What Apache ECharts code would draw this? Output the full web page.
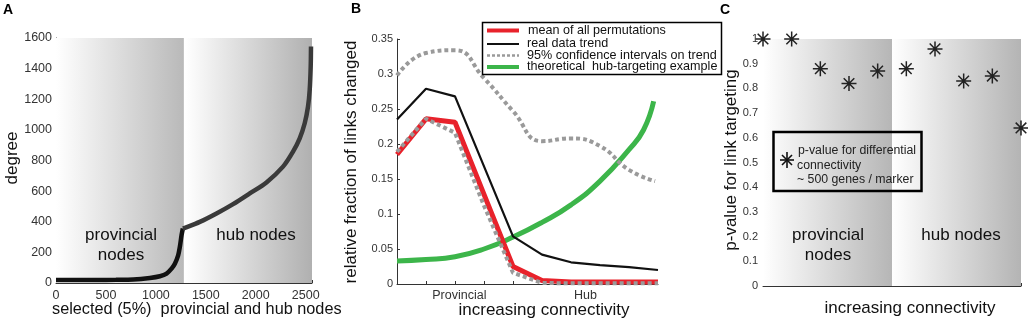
<!DOCTYPE html>
<html>
<head>
<meta charset="utf-8">
<script src="https://cdn.jsdelivr.net/npm/echarts@6/dist/echarts.min.js"></script>
<style>
  html, body { margin: 0; padding: 0; background: #fff; }
  #chart { width: 1028px; height: 320px; }
</style>
</head>
<body>
<div id="chart"></div>
<script>
// panel A: sorted node degree
var aProvX = [0, 200, 400, 600, 773, 940, 1040, 1107, 1157, 1190, 1223, 1240, 1257, 1270];
var aProvY = [20, 20, 20, 21, 23, 33, 44, 61, 94, 126, 181, 236, 312, 356];
var aHubX = [1270, 1290, 1440, 1607, 1773, 1940, 2107, 2273, 2373, 2440, 2490, 2523, 2540, 2550, 2553];
var aHubY = [356, 360, 399, 454, 515, 585, 657, 760, 858, 945, 1043, 1152, 1261, 1414, 1545];

// panel B: fraction of links changed
var bIdx = [0, 1, 2, 3, 4, 5, 6, 7, 8, 9];
var bMean = [0.185, 0.236, 0.231, 0.128, 0.025, 0.005, 0.003, 0.003, 0.003, 0.003];
var bTrend = [0.235, 0.279, 0.268, 0.168, 0.068, 0.042, 0.031, 0.027, 0.024, 0.020];
var bLow = [0.189, 0.236, 0.216, 0.112, 0.016, 0.0015, 0.001, 0.001, 0.001, 0.001];
var bHighX = [0, 1, 2, 3, 4, 5, 6, 7, 8, 8.9];
var bHigh = [0.298, 0.330, 0.334, 0.294, 0.247, 0.204, 0.208, 0.197, 0.163, 0.147];
var bHubX = [0, 1, 2, 3, 4, 5, 6, 7, 8, 8.5, 8.85];
var bHub = [0.033, 0.035, 0.039, 0.050, 0.067, 0.088, 0.113, 0.147, 0.192, 0.220, 0.261];
var bTickLabels = ['Provincial', 'Hub'];
var bTickPos = [2.15, 6.5];

// panel C: p-values per marker
var cIdx = [0, 1, 2, 3, 4, 5, 6, 7, 8, 9];
var cPval = [1.0, 1.0, 0.88, 0.82, 0.87, 0.88, 0.96, 0.83, 0.85, 0.64];

var font = "'Liberation Sans', Arial, sans-serif";
var star = 'path://M0,-10L0,10M-10,0L10,0M-7.07,-7.07L7.07,7.07M-7.07,7.07L7.07,-7.07';

function zip(xs, ys) {
    var out = [];
    for (var i = 0; i < xs.length; i++) out.push([xs[i], ys[i]]);
    return out;
}
function shade(to) {
    return new echarts.graphic.LinearGradient(0, 0, 1, 0, [
        {offset: 0, color: '#ffffff'}, {offset: 1, color: to}
    ]);
}
function plain(v) { return String(v); }
function axisBase(extra) {
    var base = {
        type: 'value',
        splitLine: {show: false},
        axisLine: {show: true, lineStyle: {color: '#333', width: 1}},
        axisTick: {show: true, inside: true, length: 3, lineStyle: {color: '#333'}},
        axisLabel: {color: '#333', fontFamily: font, fontSize: 12.5, formatter: plain}
    };
    for (var k in extra) base[k] = extra[k];
    return base;
}

var myChart = echarts.init(document.getElementById('chart'));

var option = {
    animation: false,
    textStyle: {fontFamily: font},
    grid: [
        {left: 56, top: 38, width: 256, height: 245},
        {left: 397, top: 39, width: 261, height: 245},
        {left: 763, top: 39, width: 258, height: 247}
    ],
    xAxis: [
        axisBase({gridIndex: 0, min: 0, max: 2563, interval: 500,
            axisLabel: {color: '#333', fontFamily: font, fontSize: 12.5, margin: 6,
                formatter: function (v) { return v % 500 === 0 ? String(v) : ''; }}}),
        axisBase({gridIndex: 1, min: 0, max: 9, interval: 1,
            axisTick: {show: true, inside: true, length: 3, lineStyle: {color: '#333'}, customValues: [1, 2, 3, 4]},
            axisLabel: {color: '#333', fontFamily: font, fontSize: 12.5, margin: 5, customValues: bTickPos,
                formatter: function (v) {
                    var i = bTickPos.indexOf(v);
                    return i >= 0 ? bTickLabels[i] : '';
                }}}),
        axisBase({gridIndex: 2, min: 0, max: 9, interval: 1, axisLabel: {show: false}})
    ],
    yAxis: [
        axisBase({gridIndex: 0, min: 0, max: 1600, interval: 200,
            axisLabel: {color: '#333', fontFamily: font, fontSize: 12.5, margin: 4, formatter: plain}}),
        axisBase({gridIndex: 1, min: 0, max: 0.35, interval: 0.05,
            axisLabel: {color: '#333', fontFamily: font, fontSize: 11, margin: 4}}),
        axisBase({gridIndex: 2, min: 0, max: 1, interval: 0.1,
            axisLabel: {color: '#333', fontFamily: font, fontSize: 11, margin: 5}})
    ],
    series: [
        {
            type: 'line', xAxisIndex: 0, yAxisIndex: 0, data: zip(aProvX, aProvY),
            showSymbol: false, smooth: 0.3, silent: true,
            lineStyle: {color: '#111', width: 4.5}, z: 3,
            markArea: {
                silent: true,
                data: [
                    [{xAxis: 0, yAxis: 0, itemStyle: {color: shade('#b9b9b9')}}, {xAxis: 1280, yAxis: 1600}],
                    [{xAxis: 1290, yAxis: 0, itemStyle: {color: shade('#b0b0b0')}}, {xAxis: 2563, yAxis: 1600}]
                ]
            }
        },
        {
            type: 'line', xAxisIndex: 0, yAxisIndex: 0, data: zip(aHubX, aHubY),
            showSymbol: false, smooth: 0.3, silent: true,
            lineStyle: {color: '#3a3a3a', width: 4.5}, z: 3
        },
        {
            type: 'line', xAxisIndex: 1, yAxisIndex: 1, data: zip(bHubX, bHub),
            showSymbol: false, smooth: true, silent: true,
            lineStyle: {color: '#3cb54a', width: 5}, z: 2
        },
        {
            type: 'line', xAxisIndex: 1, yAxisIndex: 1, data: zip(bIdx, bTrend),
            showSymbol: false, silent: true,
            lineStyle: {color: '#111', width: 2.2}, z: 3
        },
        {
            type: 'line', xAxisIndex: 1, yAxisIndex: 1, data: zip(bIdx, bMean),
            showSymbol: false, silent: true,
            lineStyle: {color: '#e8222b', width: 5}, z: 4
        },
        {
            type: 'line', xAxisIndex: 1, yAxisIndex: 1, data: zip(bIdx, bLow),
            showSymbol: false, silent: true,
            lineStyle: {color: '#9a9a9a', width: 4, type: [4, 3]}, z: 5
        },
        {
            type: 'line', xAxisIndex: 1, yAxisIndex: 1, data: zip(bHighX, bHigh),
            showSymbol: false, smooth: true, silent: true,
            lineStyle: {color: '#9a9a9a', width: 4, type: [4, 3]}, z: 5
        },
        {
            type: 'scatter', xAxisIndex: 2, yAxisIndex: 2, data: zip(cIdx, cPval),
            symbol: star, symbolSize: 15, silent: true, z: 4,
            itemStyle: {color: 'rgba(0,0,0,0)', borderColor: '#222', borderWidth: 1.5, opacity: 1},
            markArea: {
                silent: true,
                data: [
                    [{xAxis: 0, yAxis: 0, itemStyle: {color: shade('#b6b6b6')}}, {xAxis: 4.5, yAxis: 1}],
                    [{xAxis: 4.5, yAxis: 0, itemStyle: {color: shade('#b4b4b4')}}, {xAxis: 9, yAxis: 1}]
                ]
            }
        }
    ],
    graphic: [
        // panel letters
        {type: 'text', left: 3, top: 3, style: {text: 'A', font: 'bold 14px ' + font, fill: '#000'}},
        {type: 'text', left: 351, top: 2, style: {text: 'B', font: 'bold 14px ' + font, fill: '#000'}},
        {type: 'text', left: 720, top: 3, style: {text: 'C', font: 'bold 14px ' + font, fill: '#000'}},
        // axis titles
        {type: 'text', x: 12, y: 158, rotation: Math.PI / 2,
            style: {text: 'degree', font: '17px ' + font, fill: '#111', align: 'center', verticalAlign: 'middle'}},
        {type: 'text', x: 52, y: 310,
            style: {text: 'selected (5%)  provincial and hub nodes', font: '16.3px ' + font, fill: '#111', align: 'left', verticalAlign: 'middle'}},
        {type: 'text', x: 351, y: 162, rotation: Math.PI / 2,
            style: {text: 'relative fraction of links changed', font: '17px ' + font, fill: '#111', align: 'center', verticalAlign: 'middle'}},
        {type: 'text', x: 544, y: 310,
            style: {text: 'increasing connectivity', font: '17px ' + font, fill: '#111', align: 'center', verticalAlign: 'middle'}},
        {type: 'text', x: 731, y: 160, rotation: Math.PI / 2,
            style: {text: 'p-value for link targeting', font: '17px ' + font, fill: '#111', align: 'center', verticalAlign: 'middle'}},
        {type: 'text', x: 910, y: 308,
            style: {text: 'increasing connectivity', font: '17px ' + font, fill: '#111', align: 'center', verticalAlign: 'middle'}},
        // region labels
        {type: 'text', x: 121, y: 245, z: 10,
            style: {text: 'provincial\nnodes', font: '17px ' + font, lineHeight: 20, fill: '#111', align: 'center', verticalAlign: 'middle'}},
        {type: 'text', x: 256, y: 235, z: 10,
            style: {text: 'hub nodes', font: '17px ' + font, fill: '#111', align: 'center', verticalAlign: 'middle'}},
        {type: 'text', x: 828, y: 245, z: 10,
            style: {text: 'provincial\nnodes', font: '17px ' + font, lineHeight: 20, fill: '#111', align: 'center', verticalAlign: 'middle'}},
        {type: 'text', x: 961, y: 235, z: 10,
            style: {text: 'hub nodes', font: '17px ' + font, fill: '#111', align: 'center', verticalAlign: 'middle'}},
        // legend B
        {type: 'rect', z: 20, shape: {x: 482.5, y: 22.5, width: 239, height: 52},
            style: {fill: '#fff', stroke: '#000', lineWidth: 1.5}},
        {type: 'line', z: 21, shape: {x1: 487, y1: 30.5, x2: 519, y2: 30.5}, style: {stroke: '#e8222b', lineWidth: 4}},
        {type: 'line', z: 21, shape: {x1: 487, y1: 44, x2: 519, y2: 44}, style: {stroke: '#111', lineWidth: 2}},
        {type: 'line', z: 21, shape: {x1: 487, y1: 55.5, x2: 519, y2: 55.5}, style: {stroke: '#9a9a9a', lineWidth: 2.5, lineDash: [3, 2]}},
        {type: 'line', z: 21, shape: {x1: 487, y1: 67, x2: 519, y2: 67}, style: {stroke: '#3cb54a', lineWidth: 4}},
        {type: 'text', z: 21, x: 528, y: 30.5, style: {text: 'mean of all permutations', font: '12.6px ' + font, fill: '#111', verticalAlign: 'middle'}},
        {type: 'text', z: 21, x: 527, y: 43.5, style: {text: 'real data trend', font: '12.6px ' + font, fill: '#111', verticalAlign: 'middle'}},
        {type: 'text', z: 21, x: 527, y: 55.5, style: {text: '95% confidence intervals on trend', font: '12.6px ' + font, fill: '#111', verticalAlign: 'middle'}},
        {type: 'text', z: 21, x: 527, y: 67, style: {text: 'theoretical  hub-targeting example', font: '12.6px ' + font, fill: '#111', verticalAlign: 'middle'}},
        // legend C
        {type: 'rect', z: 20, shape: {x: 773.5, y: 132, width: 148, height: 59},
            style: {fill: 'rgba(0,0,0,0)', stroke: '#000', lineWidth: 2.5}},
        {type: 'line', z: 21, shape: {x1: 787, y1: 152, x2: 787, y2: 168}, style: {stroke: '#111', lineWidth: 1.6}},
        {type: 'line', z: 21, shape: {x1: 780, y1: 160, x2: 794, y2: 160}, style: {stroke: '#111', lineWidth: 1.6}},
        {type: 'line', z: 21, shape: {x1: 782, y1: 155, x2: 792, y2: 165}, style: {stroke: '#111', lineWidth: 1.6}},
        {type: 'line', z: 21, shape: {x1: 782, y1: 165, x2: 792, y2: 155}, style: {stroke: '#111', lineWidth: 1.6}},
        {type: 'text', z: 21, x: 798, y: 151, style: {text: 'p-value for differential', font: '12.3px ' + font, fill: '#222', verticalAlign: 'middle'}},
        {type: 'text', z: 21, x: 797, y: 165.5, style: {text: 'connectivity', font: '12.3px ' + font, fill: '#222', verticalAlign: 'middle'}},
        {type: 'text', z: 21, x: 797, y: 180, style: {text: '~ 500 genes / marker', font: '12.3px ' + font, fill: '#222', verticalAlign: 'middle'}}
    ]
};

myChart.setOption(option);
</script>
</body>
</html>
